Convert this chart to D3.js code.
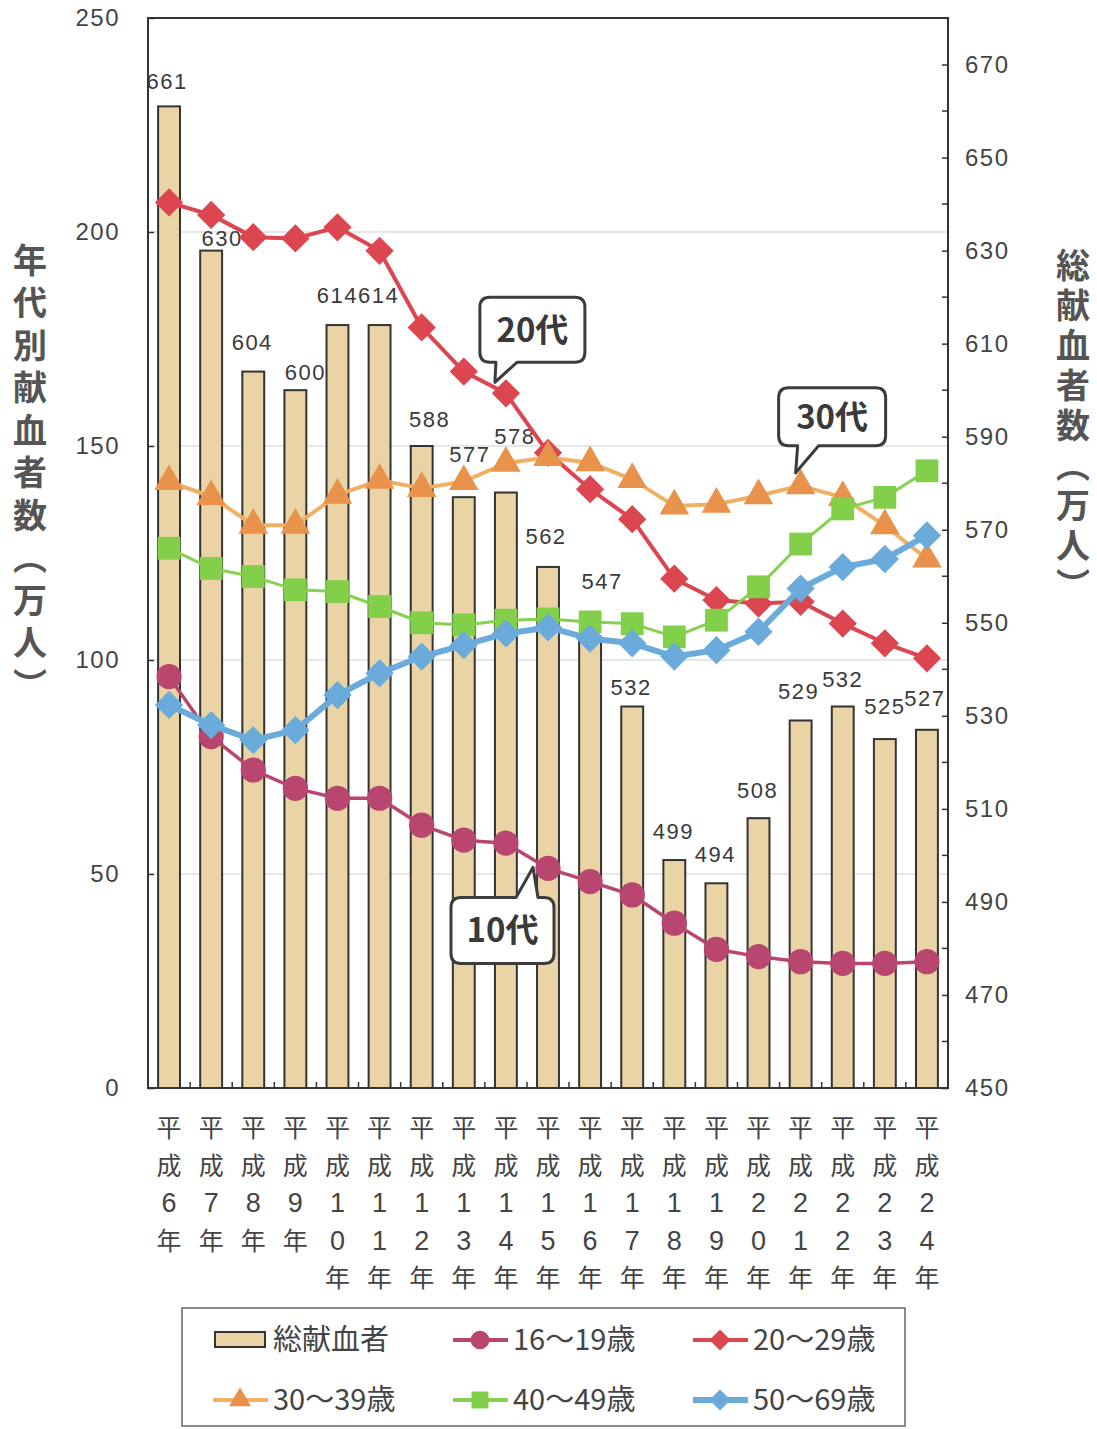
<!DOCTYPE html>
<html>
<head>
<meta charset="utf-8">
<script src="https://cdn.jsdelivr.net/npm/d3@7"></script>
<style>
  body { margin: 0; background: #fff; }
  svg { display: block; }
  text { font-family: "Liberation Sans", Arial, "Noto Sans CJK JP", sans-serif; fill: #3a3a3a; }
  .jp { font-family: "Noto Sans CJK JP", sans-serif; }
</style>
</head>
<body>
<script>
// years (平成6年 .. 平成24年)
const categories = ['平成6年', '平成7年', '平成8年', '平成9年', '平成10年', '平成11年', '平成12年',
  '平成13年', '平成14年', '平成15年', '平成16年', '平成17年', '平成18年', '平成19年', '平成20年',
  '平成21年', '平成22年', '平成23年', '平成24年'];

// total donors (right axis, 万人)
const totalDonors = [661, 630, 604, 600, 614, 614, 588, 577, 578, 562, 547, 532, 499, 494, 508, 529, 532, 525, 527];

// donors by age group (left axis, 万人)
const age16to19 = [96.1, 82.1, 74.3, 70, 67.7, 67.7, 61.4, 57.9, 57.2, 51.3, 48.2, 45.1, 38.5, 32.4, 30.7, 29.5, 29.1, 29.1, 29.5];
const age20to29 = [206.9, 204, 198.8, 198.5, 201.1, 195.6, 177.7, 167.4, 162.3, 148.4, 139.9, 132.9, 119, 114, 113.2, 113.6, 108.5, 103.9, 100.4];
const age30to39 = [141.7, 138.2, 131.5, 131.5, 138.5, 142, 140.1, 141.7, 146, 147.3, 146.1, 142.2, 136, 136.4, 138.4, 140.7, 138, 131.4, 123.6];
const age40to49 = [126.1, 121.4, 119.5, 116.4, 116, 112.5, 108.7, 108.2, 109.3, 109.6, 108.9, 108.5, 105.4, 109.3, 117.1, 127.1, 135.3, 138, 144.2];
const age50to69 = [89.5, 84.8, 81.3, 83.6, 91.8, 96.9, 100.8, 103.5, 106.2, 107.6, 105, 103.9, 100.8, 102.3, 106.6, 116.7, 121.7, 123.6, 129.1];

const leftTicks = [0, 50, 100, 150, 200, 250];
const rightTicks = [450, 470, 490, 510, 530, 550, 570, 590, 610, 630, 650, 670];

const leftTitle = '年代別献血者数（万人）';
const rightTitle = '総献血者数（万人）';

// the data labels were hand-placed in the original; nudge [dx, dy] from the bar top
const labelNudge = [[-2, -17], [11, -5], [-1, -22], [10, -10], [0, -22], [-1, -22], [8, -19], [6, -35],
  [9, -49], [-2, -23], [12, -48], [-1, -12], [-1, -21], [-1, -21], [-1, -20], [-2, -21], [0, -20],
  [0, -25], [-2, -24]];

document.addEventListener('DOMContentLoaded', () => {
  const W = 1097, H = 1429;
  const plot = {left: 148, right: 948, top: 18, bottom: 1088};

  const svg = d3.select('body').append('svg')
    .attr('width', W)
    .attr('height', H);

  const x = d3.scaleBand()
    .domain(categories)
    .range([plot.left, plot.right])
    .paddingInner(0)
    .paddingOuter(0);
  const yL = d3.scaleLinear().domain([0, 250]).range([plot.bottom, plot.top]);
  const yR = d3.scaleLinear().domain([450, 680]).range([plot.bottom, plot.top]);
  const cx = d => x(d) + x.bandwidth() / 2;

  // grid lines
  svg.append('g')
    .selectAll('line')
    .data(leftTicks.slice(1, -1))
    .enter().append('line')
      .attr('x1', plot.left)
      .attr('x2', plot.right)
      .attr('y1', d => yL(d))
      .attr('y2', d => yL(d))
      .style('stroke', '#cfcfcf')
      .style('stroke-width', 1.2);

  // bars (total donors, right axis)
  const barW = x.bandwidth() * 0.52;
  svg.append('g')
    .selectAll('rect')
    .data(totalDonors)
    .enter().append('rect')
      .attr('x', (d, i) => cx(categories[i]) - barW / 2)
      .attr('width', barW)
      .attr('y', d => yR(d))
      .attr('height', d => plot.bottom - yR(d))
      .style('fill', '#ead4a6')
      .style('stroke', '#333')
      .style('stroke-width', 2);

  svg.append('g')
    .selectAll('text')
    .data(totalDonors)
    .enter().append('text')
      .attr('x', (d, i) => cx(categories[i]) + labelNudge[i][0])
      .attr('y', (d, i) => yR(d) + labelNudge[i][1])
      .attr('text-anchor', 'middle')
      .style('font-size', '22px')
      .style('letter-spacing', '1.5px')
      .text(d => d);

  // frame
  svg.append('rect')
    .attr('x', plot.left)
    .attr('y', plot.top)
    .attr('width', plot.right - plot.left)
    .attr('height', plot.bottom - plot.top)
    .style('fill', 'none')
    .style('stroke', '#333')
    .style('stroke-width', 2);

  // left axis
  const axL = svg.append('g')
    .attr('transform', `translate(${plot.left},0)`)
    .call(d3.axisLeft(yL).tickValues(leftTicks).tickSize(-6).tickPadding(28));
  axL.select('.domain').remove();
  axL.selectAll('line').style('stroke', '#333').style('stroke-width', 1.5);
  axL.selectAll('text').style('font-size', '24px').style('fill', '#444')
    .style('letter-spacing', '1.5px')
    .style('font-family', '"Liberation Sans", Arial, sans-serif');

  // right axis with minor ticks
  const axR = svg.append('g')
    .attr('transform', `translate(${plot.right},0)`)
    .call(d3.axisRight(yR).tickValues(rightTicks).tickSize(-6).tickPadding(17));
  axR.select('.domain').remove();
  axR.selectAll('line').style('stroke', '#333').style('stroke-width', 1.5);
  axR.selectAll('text').style('font-size', '24px').style('fill', '#444')
    .style('letter-spacing', '1.5px')
    .style('font-family', '"Liberation Sans", Arial, sans-serif');
  svg.append('g')
    .selectAll('line')
    .data(rightTicks.slice(0, -1).map(d => d + 10))
    .enter().append('line')
      .attr('x1', plot.right - 6)
      .attr('x2', plot.right)
      .attr('y1', d => yR(d))
      .attr('y2', d => yR(d))
      .style('stroke', '#333')
      .style('stroke-width', 1.5);

  // bottom ticks between categories
  svg.append('g')
    .selectAll('line')
    .data(categories.slice(1))
    .enter().append('line')
      .attr('x1', d => x(d))
      .attr('x2', d => x(d))
      .attr('y1', plot.bottom)
      .attr('y2', plot.bottom - 6)
      .style('stroke', '#333')
      .style('stroke-width', 1.5);

  // category labels, one character per row
  const xl = svg.append('g')
    .selectAll('text')
    .data(categories)
    .enter().append('text')
      .attr('class', 'jp')
      .attr('text-anchor', 'middle')
      .style('font-size', '25px')
      .style('fill', '#444');
  xl.selectAll('tspan')
    .data(d => Array.from(d).map(ch => ({ch, cat: d})))
    .enter().append('tspan')
      .attr('x', d => cx(d.cat))
      .attr('y', (d, i) => 1137 + i * 37.5)
      .style('font-family', d => /[0-9]/.test(d.ch) ? '"Liberation Sans Narrow", "Liberation Sans", sans-serif' : null)
      .style('font-size', d => /[0-9]/.test(d.ch) ? '27px' : null)
      .text(d => d.ch);

  // axis titles, vertical writing
  svg.append('text')
    .attr('class', 'jp')
    .attr('x', 30)
    .attr('y', 243)
    .style('writing-mode', 'vertical-rl')
    .style('text-orientation', 'upright')
    .style('font-size', '34px')
    .style('font-weight', 'bold')
    .style('letter-spacing', '8.5px')
    .style('fill', '#555')
    .text(leftTitle);

  svg.append('text')
    .attr('class', 'jp')
    .attr('x', 1073)
    .attr('y', 248)
    .style('writing-mode', 'vertical-rl')
    .style('text-orientation', 'upright')
    .style('font-size', '34px')
    .style('font-weight', 'bold')
    .style('letter-spacing', '6px')
    .style('fill', '#555')
    .text(rightTitle);

  // line series
  const series = [
    {name: '16～19歳', values: age16to19, line: '#b8466f', fill: '#b8466f', width: 3.5,
      symbol: d3.symbolCircle, size: 500, rotate: 0},
    {name: '20～29歳', values: age20to29, line: '#dc4650', fill: '#dc4650', width: 4,
      symbol: d3.symbolSquare, size: 400, rotate: 45},
    {name: '30～39歳', values: age30to39, line: '#f0b063', fill: '#e8924c', width: 4,
      symbol: d3.symbolTriangle, size: 380, rotate: 0},
    {name: '40～49歳', values: age40to49, line: '#86d152', fill: '#82d04a', width: 3,
      symbol: d3.symbolSquare, size: 520, rotate: 0},
    {name: '50～69歳', values: age50to69, line: '#6aabdb', fill: '#6aabdb', width: 6,
      symbol: d3.symbolSquare, size: 400, rotate: 45}
  ];

  const lineGen = d3.line()
    .x((d, i) => cx(categories[i]))
    .y(d => yL(d));

  series.forEach(s => {
    const g = svg.append('g');
    g.append('path')
      .datum(s.values)
      .attr('d', lineGen)
      .style('fill', 'none')
      .style('stroke', s.line)
      .style('stroke-width', s.width)
      .style('stroke-linejoin', 'round');
    g.selectAll('path.mark')
      .data(s.values)
      .enter().append('path')
        .attr('class', 'mark')
        .attr('d', d3.symbol().type(s.symbol).size(s.size))
        .attr('transform', (d, i) => `translate(${cx(categories[i])},${yL(d)}) rotate(${s.rotate})`)
        .style('fill', s.fill);
  });

  // callouts
  const callouts = [
    {text: '20代', values: age20to29, idx: 8, tip: [-11, -11], box: [-15, -85, 105, 65], tail: 'bottom', base: [1, 22]},
    {text: '30代', values: age30to39, idx: 15, tip: [-5, -13], box: [-17, -85, 107, 58], tail: 'bottom', base: [2, 23]},
    {text: '10代', values: age16to19, idx: 9, tip: [-15, -1], box: [-82, 30, 103, 66], tail: 'top', base: [-17, 5]}
  ];

  const calloutPath = (bx, by, bw, bh, r, c, tx, ty) => {
    const t1 = tx + c.base[0], t2 = tx + c.base[1];
    const p = d3.path();
    p.moveTo(bx + r, by);
    if (c.tail === 'top') { p.lineTo(t1, by); p.lineTo(tx, ty); p.lineTo(t2, by); }
    p.lineTo(bx + bw - r, by);
    p.quadraticCurveTo(bx + bw, by, bx + bw, by + r);
    p.lineTo(bx + bw, by + bh - r);
    p.quadraticCurveTo(bx + bw, by + bh, bx + bw - r, by + bh);
    if (c.tail === 'bottom') { p.lineTo(t2, by + bh); p.lineTo(tx, ty); p.lineTo(t1, by + bh); }
    p.lineTo(bx + r, by + bh);
    p.quadraticCurveTo(bx, by + bh, bx, by + bh - r);
    p.lineTo(bx, by + r);
    p.quadraticCurveTo(bx, by, bx + r, by);
    p.closePath();
    return p.toString();
  };

  callouts.forEach(c => {
    const px = cx(categories[c.idx]), py = yL(c.values[c.idx]);
    const tx = px + c.tip[0], ty = py + c.tip[1];
    const bx = tx + c.box[0], by = ty + c.box[1], bw = c.box[2], bh = c.box[3];
    svg.append('path')
      .attr('d', calloutPath(bx, by, bw, bh, 10, c, tx, ty))
      .style('fill', '#fff')
      .style('stroke', '#3c3c3c')
      .style('stroke-width', 3)
      .style('stroke-linejoin', 'round');
    svg.append('text')
      .attr('class', 'jp')
      .attr('x', bx + bw / 2)
      .attr('y', by + bh / 2 + 12)
      .attr('text-anchor', 'middle')
      .style('font-size', '33px')
      .style('font-weight', 'bold')
      .style('fill', '#3a3a3a')
      .text(c.text);
  });

  // legend
  const lg = svg.append('g');
  lg.append('rect')
    .attr('x', 182).attr('y', 1308)
    .attr('width', 723).attr('height', 118)
    .style('fill', '#fff')
    .style('stroke', '#666')
    .style('stroke-width', 1.5);

  const legendItems = [{name: '総献血者', bar: true}].concat(series);
  legendItems.forEach((s, i) => {
    const col = i % 3, row = Math.floor(i / 3);
    const lx = 213 + col * 240, ly = 1340 + row * 60;
    const item = lg.append('g').attr('transform', `translate(${lx},${ly})`);
    if (s.bar) {
      item.append('rect')
        .attr('x', 2).attr('y', -8).attr('width', 50).attr('height', 15)
        .style('fill', '#ead4a6').style('stroke', '#333').style('stroke-width', 2);
    } else {
      item.append('line')
        .attr('x1', 0).attr('x2', 55).attr('y1', 0).attr('y2', 0)
        .style('stroke', s.line).style('stroke-width', Math.max(s.width, 4));
      item.append('path')
        .attr('d', d3.symbol().type(s.symbol).size(s.size * 0.55))
        .attr('transform', `translate(27,0) rotate(${s.rotate})`)
        .style('fill', s.fill);
    }
    item.append('text')
      .attr('class', 'jp')
      .attr('x', 60)
      .attr('y', 10)
      .style('font-size', '29px')
      .style('fill', '#444')
      .text(s.name);
  });
}, false);
</script>
</body>
</html>
